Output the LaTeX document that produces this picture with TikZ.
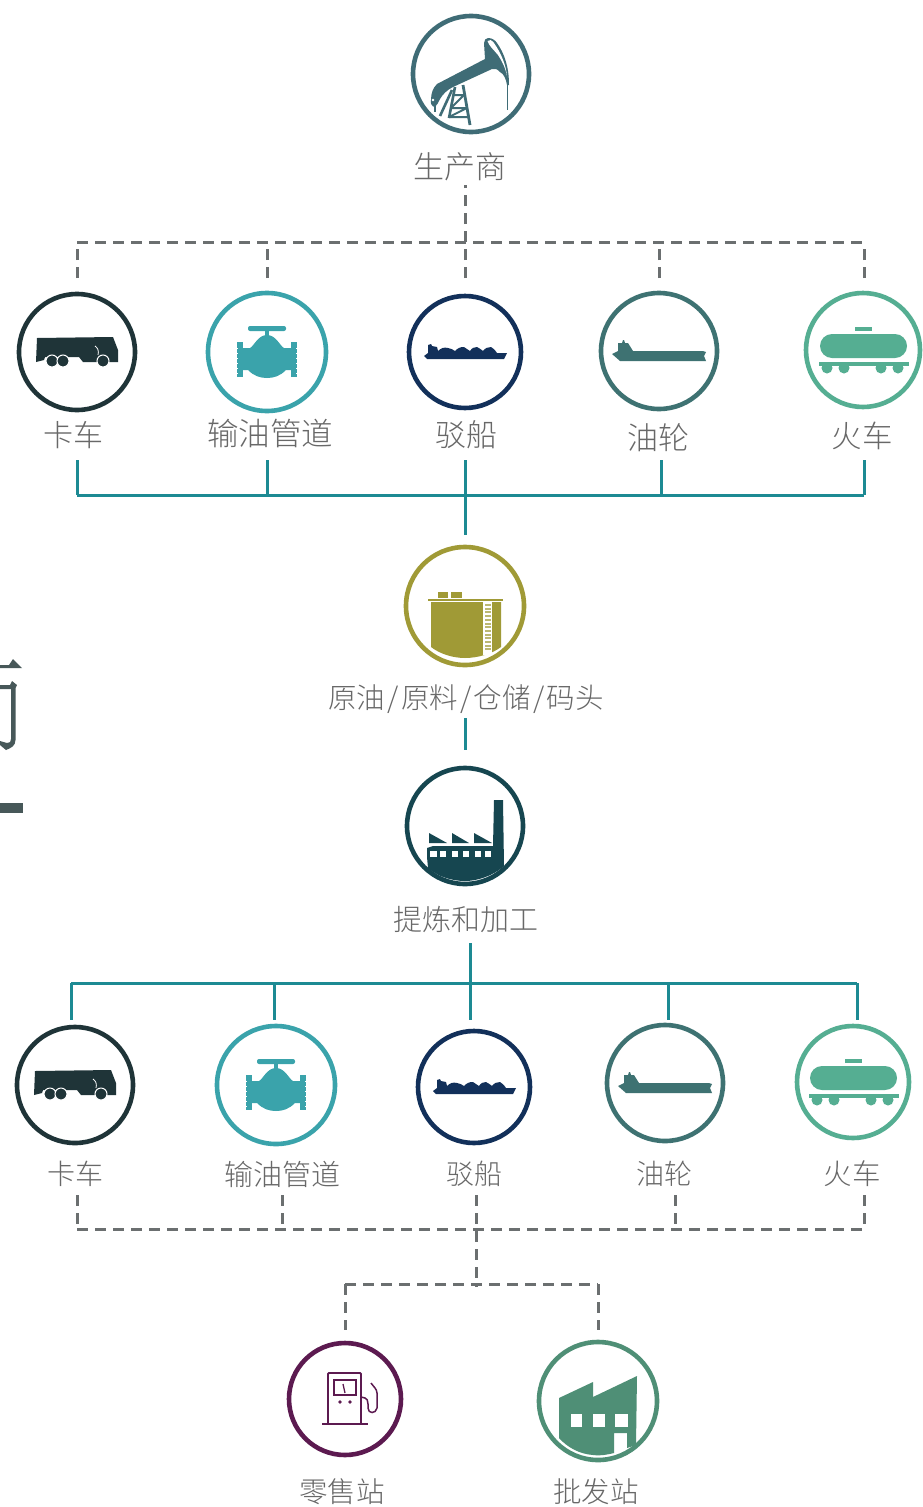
\documentclass[tikz,border=0pt]{standalone}
\usepackage{fontspec}
\newfontfamily\cjk{Noto Sans CJK SC Light}
\definecolor{cDer}{HTML}{3F6C76}
\definecolor{cTruck}{HTML}{1F3438}
\definecolor{cValve}{HTML}{3AA3AB}
\definecolor{cBarge}{HTML}{12305A}
\definecolor{cTank}{HTML}{3E7272}
\definecolor{cTrain}{HTML}{55AE92}
\definecolor{cStore}{HTML}{A09A36}
\definecolor{cFact}{HTML}{164650}
\definecolor{cRetail}{HTML}{5C1A50}
\definecolor{cWhole}{HTML}{4F8F76}
\definecolor{cLine}{HTML}{1D8A93}
\definecolor{cDash}{HTML}{6B6F70}
\definecolor{cText}{HTML}{686868}
\definecolor{cTitle}{HTML}{475859}
\tikzset{
  x=1pt,y=-1pt,
  ring/.style={circle,draw=#1,line width=4.6pt,fill=white,inner sep=0pt},
  lbl/.style={font=\cjk,text=cText,inner sep=0pt,anchor=center},
  solidlink/.style={draw=cLine,line width=3pt},
  dashlink/.style={draw=cDash,line width=3pt,dash pattern=on 11pt off 7pt},
  icontruck/.pic={
    \fill[cTruck] (-40,-14) -- (36,-15) -- (41,-2) -- (41,10) -- (32,10) -- (20,10) -- (6,10) -- (2,5) -- (-32,5) -- (-33,8) -- (-41,10) -- cycle;
    \draw[white,line width=.8pt] (18,-6) .. controls (21,-4) and (22,-1) .. (21,3);
    \foreach \p in {-25,-14,26}{\fill[cTruck,draw=white,line width=1pt] (\p,9) circle[radius=6pt];}
  },
  iconvalve/.pic={
    \fill[cValve,rounded corners=2pt] (-19,-26) rectangle (19,-21);
    \fill[cValve] (-2,-22) rectangle (2,-16);
    \fill[cValve] (-25,-4) -- (-17,-4) .. controls (-13,-6) and (-9,-17) .. (0,-17) .. controls (9,-17) and (13,-6) .. (17,-4) -- (25,-4) -- (25,18) -- (19,18) .. controls (13,24) and (7,26) .. (0,26) .. controls (-7,26) and (-13,24) .. (-19,18) -- (-25,18) -- cycle;
    \fill[cValve] (-30,-10) rectangle (-24,25);
    \fill[cValve] (24,-10) rectangle (30,25);
    \foreach \q in {-4,1,6,11,16,21}{
      \fill[white] (-31,\q) rectangle (-29.4,\q+1.2);
      \fill[white] (29.4,\q) rectangle (31,\q+1.2);}
  },
  iconbarge/.pic={
    \fill[cBarge] (-41,4) -- (-37,1) -- (-37,-7) -- (-34,-8) -- (-33,-6) -- (-28,-5) -- (-27,-1)
      .. controls (-24,-4) and (-21,-5) .. (-17,-4)
      .. controls (-14,-4) and (-12,-2) .. (-10,-1)
      .. controls (-7,-4) and (-5,-5) .. (-1,-5)
      .. controls (1,-4) and (3,-2) .. (5,-1)
      .. controls (7,-4) and (9,-5) .. (12,-5)
      .. controls (14,-4) and (17,-2) .. (18,-1)
      .. controls (20,-4) and (23,-5) .. (26,-5)
      .. controls (28,-4) and (30,-2) .. (32,1)
      -- (42,1) -- (39,7) -- (-38,7) -- cycle;
  },
  icontanker/.pic={
    \fill[cTank] (-47,3) -- (-41,0) -- (-41,-8) -- (-37,-8) -- (-36,-11) -- (-35,-11) -- (-34,-8) -- (-31,-8) -- (-26,0) -- (44,0) -- (47,1) -- (45,5) -- (47,10) -- (-39,10) -- cycle;
  },
  icontrain/.pic={
    \fill[cTrain] (-8,-23) rectangle (9,-19);
    \fill[cTrain,rounded corners=12pt] (-43,-16) rectangle (44,8);
    \fill[cTrain] (-44,12) rectangle (46,16);
    \foreach \p in {-36,-19,18,35}{\fill[cTrain] (\p,18) circle[radius=5.5pt];}
  },
  iconstore/.pic={
    \fill[cStore] (-27,-14) rectangle (-17,-8);
    \fill[cStore] (-14,-14) rectangle (-3,-8);
    \fill[cStore] (-37,-7) rectangle (38,-5);
    \fill[cStore] (-34,-4) -- (36,-4) -- (36,41) .. controls (27,48) and (12,52) .. (0,52) .. controls (-12,52) and (-25,48) .. (-34,41) -- cycle;
    \fill[white] (18,-4) rectangle (27,49);
    \foreach \q in {-2,1.7,...,46}{\fill[cStore!70!white] (19.5,\q) rectangle (25.5,\q+2);}
  },
  iconfact/.pic={
    \fill[cFact] (29,-26) -- (38,-26) -- (39,40) .. controls (28,50) and (12,55) .. (0,55) .. controls (-14,55) and (-28,50) .. (-37,42) -- (-38,31) -- (-38,22) -- (-32,20) -- (28,20) -- cycle;
    \fill[cFact] (-36,7) -- (-18,17) -- (-36,17) -- cycle;
    \fill[cFact] (-13,7) -- (4,17) -- (-13,17) -- cycle;
    \fill[cFact] (9,7) -- (27,17) -- (9,17) -- cycle;
    \foreach \p/\w in {-35/6.5,-25/6,-13/6,-2.5/6,10/6,19.5/6.5}{\fill[white] (\p,25) rectangle (\p+\w,31);}
  },
  iconderrick/.pic={
    \fill[cDer] (17,-36) .. controls (21,-36) and (24,-34) .. (26,-31) .. controls (33,-21) and (38,-8) .. (38,11) -- (36,11) .. controls (35,5) and (33,0) .. (29,-2) .. controls (26,-5) and (24,-6) .. (21,-5) -- (-18,13) .. controls (-24,16) and (-28,20) .. (-31,25) .. controls (-33,29) and (-34,31) .. (-36,33) .. controls (-39,33) and (-41,29) .. (-40,26) .. controls (-40,19) and (-38,14) .. (-34,10) -- (14,-15) -- (13,-31) .. controls (13,-34) and (15,-36) .. (17,-36) -- cycle;
    \fill[white] (16.5,-33) .. controls (18,-35) and (21,-34) .. (23,-31) .. controls (30,-21) and (35,-9) .. (36,2) .. controls (34.5,-6) and (31,-13) .. (27,-19) .. controls (23,-24) and (18,-28) .. (16.5,-33) -- cycle;
    \fill[white] (-38,26) circle[radius=1.3pt];
    \draw[cDer,line width=1pt] (36,8) -- (36,36);
    \draw[cDer,line width=1.2pt] (-36,31) -- (-36,38);
    \draw[cDer,line width=2.8pt] (-8,11) -- (-1,51);
    \draw[cDer,line width=2.6pt] (-16,13) -- (-22,44);
    \draw[cDer,line width=2.6pt] (-19,16) -- (-31,42);
    \draw[cDer,line width=2pt] (-17,21) -- (-7,21) (-20,34) -- (-4,34) (-22,43) -- (-3,43) (-19,33) -- (-7,21) (-22,43) -- (-4,34);
  },
  iconretail/.pic={
    \draw[cRetail,line width=1.8pt,rounded corners=1pt] (-17,24) -- (-17,-26) -- (16,-26) -- (16,24);
    \draw[cRetail,line width=2.2pt] (-23,25) -- (23,25);
    \draw[cRetail,line width=1.5pt] (-11,-19) rectangle (11,-4);
    \draw[cRetail,line width=1.3pt] (-2,-15) -- (0,-6);
    \fill[cRetail] (-5,3) circle[radius=1.9pt] (5,3) circle[radius=1.9pt];
    \draw[cRetail,line width=1.5pt] (16,-2) -- (20,-1) .. controls (22,-1) and (23,2) .. (23,5) -- (23,9) .. controls (23,15) and (31,15) .. (32,9) -- (32,-6) .. controls (32,-10) and (28,-13) .. (26,-16);
  },
  iconwhole/.pic={
    \fill[cWhole] (-39,-3) -- (-5,-19) -- (-5,-4) -- (39,-25) -- (38,44) -- (29,47) -- (29,32) -- (16,32) -- (16,52) .. controls (8,54) and (0,55) .. (-5,54) .. controls (-18,53) and (-30,47) .. (-39,37) -- cycle;
    \fill[white] (-27,13) rectangle (-16,26);
    \fill[white] (-5,13) rectangle (7,26);
    \fill[white] (17,13) rectangle (30,26);
  }
}
\begin{document}
\begin{tikzpicture}
\useasboundingbox (0,0) rectangle (923,1507);
\fill[white] (0,0) rectangle (923,1507);

% clipped title fragment at the left edge
\fill[cTitle] (0,665) -- (9,665) -- (13,659) -- (22,668) -- (0,668) -- cycle;
\fill[cTitle] (0,685) -- (10,685) -- (12,681) -- (17,685) -- (15.5,688) -- (15.5,740) .. controls (15.5,746) and (11,748) .. (6,750) -- (0,745) -- (0,741) -- (7,743) .. controls (10,743) and (11,742) .. (11,739) -- (11,689) -- (0,689) -- cycle;
\fill[cTitle] (0,803) rectangle (23,813);

% rings
\node[ring=cDer,minimum size=116pt] (derrick) at (471,74) {};
\node[ring=cTruck,minimum size=116pt] (truckA) at (77,352) {};
\node[ring=cValve,minimum size=118pt] (valveA) at (267,352) {};
\node[ring=cBarge,minimum size=112pt] (bargeA) at (465,352) {};
\node[ring=cTank,minimum size=116pt] (tankerA) at (659,351) {};
\node[ring=cTrain,minimum size=114pt] (trainA) at (863,350) {};
\node[ring=cStore,minimum size=118pt] (store) at (465,606) {};
\node[ring=cFact,minimum size=116pt] (fact) at (465,826) {};
\node[ring=cTruck,minimum size=116pt] (truckB) at (75,1085) {};
\node[ring=cValve,minimum size=118pt] (valveB) at (276,1085) {};
\node[ring=cBarge,minimum size=112pt] (bargeB) at (474,1087) {};
\node[ring=cTank,minimum size=116pt] (tankerB) at (665,1083) {};
\node[ring=cTrain,minimum size=112pt] (trainB) at (853,1082) {};
\node[ring=cRetail,minimum size=112pt] (retail) at (345,1399) {};
\node[ring=cWhole,minimum size=118pt] (whole) at (598,1401) {};

% icons
\pic at (derrick) {iconderrick};
\pic at (truckA) {icontruck};
\pic at (valveA) {iconvalve};
\pic at (bargeA) {iconbarge};
\pic at (tankerA) {icontanker};
\pic at (trainA) {icontrain};
\pic at (store) {iconstore};
\pic at (fact) {iconfact};
\pic at (truckB) {icontruck};
\pic at (valveB) {iconvalve};
\pic at (bargeB) {iconbarge};
\pic at (tankerB) {icontanker};
\pic at (trainB) {icontrain};
\pic at (retail) {iconretail};
\pic at (whole) {iconwhole};

% labels
\node[lbl,font=\cjk\fontsize{31}{31}\selectfont] (lProd) at (460,167) {生产商};
\node[lbl,font=\cjk\fontsize{30}{30}\selectfont] (lTruckA) at (73,435) {卡车};
\node[lbl,font=\cjk\fontsize{31.5}{31.5}\selectfont] (lValveA) at (270,433) {输油管道};
\node[lbl,font=\cjk\fontsize{31}{31}\selectfont] (lBargeA) at (466,435) {驳船};
\node[lbl,font=\cjk\fontsize{31}{31}\selectfont] (lTankerA) at (658,438) {油轮};
\node[lbl,font=\cjk\fontsize{30.5}{30.5}\selectfont] (lTrainA) at (862,436) {火车};
\node[lbl,font=\cjk\fontsize{28.5}{28.5}\selectfont] (lStore) at (466,699) {原油\hspace{2.3pt}/\hspace{2.3pt}原料\hspace{2.3pt}/\hspace{2.3pt}仓储\hspace{2.3pt}/\hspace{2.3pt}码头};
\node[lbl,font=\cjk\fontsize{29}{29}\selectfont] (lFact) at (466,919) {提炼和加工};
\node[lbl,font=\cjk\fontsize{28}{28}\selectfont] (lTruckB) at (75,1174) {卡车};
\node[lbl,font=\cjk\fontsize{29}{29}\selectfont] (lValveB) at (282,1174) {输油管道};
\node[lbl,font=\cjk\fontsize{28}{28}\selectfont] (lBargeB) at (474,1174) {驳船};
\node[lbl,font=\cjk\fontsize{28}{28}\selectfont] (lTankerB) at (664,1174) {油轮};
\node[lbl,font=\cjk\fontsize{28.5}{28.5}\selectfont] (lTrainB) at (852,1174) {火车};
\node[lbl,font=\cjk\fontsize{28.5}{28.5}\selectfont] (lRetail) at (342,1492) {零售站};
\node[lbl,font=\cjk\fontsize{28.5}{28.5}\selectfont] (lWhole) at (596,1492) {批发站};

% connector junctions
\foreach \n/\px in {a/77,b/267,c/465,d/659,e/864}{
  \coordinate (upTop\n) at (\px,242);
  \coordinate (upEnd\n) at (\px,278);}
\coordinate (prodEnd) at (465,185);
\foreach \n/\px in {a/77,b/267,c/465,d/661,e/864}{
  \coordinate (soTop\n) at (\px,460);
  \coordinate (soBus\n) at (\px,495);}
\coordinate (soDown) at (465,535);
\coordinate (midA) at (465,718);
\coordinate (midB) at (465,750);
\coordinate (facOut) at (470,943);
\foreach \n/\px in {a/71,b/274,c/470,d/668,e/857}{
  \coordinate (loBus\n) at (\px,983);
  \coordinate (loEnd\n) at (\px,1020);}
\foreach \n/\px in {a/77,b/282,c/476,d/675,e/864}{
  \coordinate (daTop\n) at (\px,1195);
  \coordinate (daBus\n) at (\px,1229);}
\coordinate (hub) at (476,1287);
\coordinate (retL) at (345,1284);
\coordinate (retEnd) at (345,1330);
\coordinate (whoR) at (598,1284);
\coordinate (whoEnd) at (598,1330);

% dashed: producer to carriers
\draw[dashlink] (upEndc) -- (prodEnd);
\draw[dashlink] (upTopa) -- (upTope);
\foreach \n in {a,b,d,e}{\draw[dashlink] (upEnd\n) -- (upTop\n);}
% solid: carriers to storage
\draw[solidlink] (soBusa) -- (soBuse);
\foreach \n in {a,b,d,e}{\draw[solidlink] (soTop\n) -- (soBus\n);}
\draw[solidlink] (soTopc) -- (soDown);
\draw[solidlink] (midA) -- (midB);
% solid: refining to carriers
\draw[solidlink] (loBusa) -- (loBuse);
\draw[solidlink] (facOut) -- (loBusc);
\foreach \n in {a,b,c,d,e}{\draw[solidlink] (loBus\n) -- (loEnd\n);}
% dashed: carriers to outlets
\draw[dashlink] (daBusa) -- (daBuse);
\foreach \n in {a,b,d,e}{\draw[dashlink] (daTop\n) -- (daBus\n);}
\draw[dashlink] (daTopc) -- (hub);
\draw[dashlink] (retL) -- (whoR);
\draw[dashlink] (retL) -- (retEnd);
\draw[dashlink] (whoR) -- (whoEnd);
\end{tikzpicture}
\end{document}
